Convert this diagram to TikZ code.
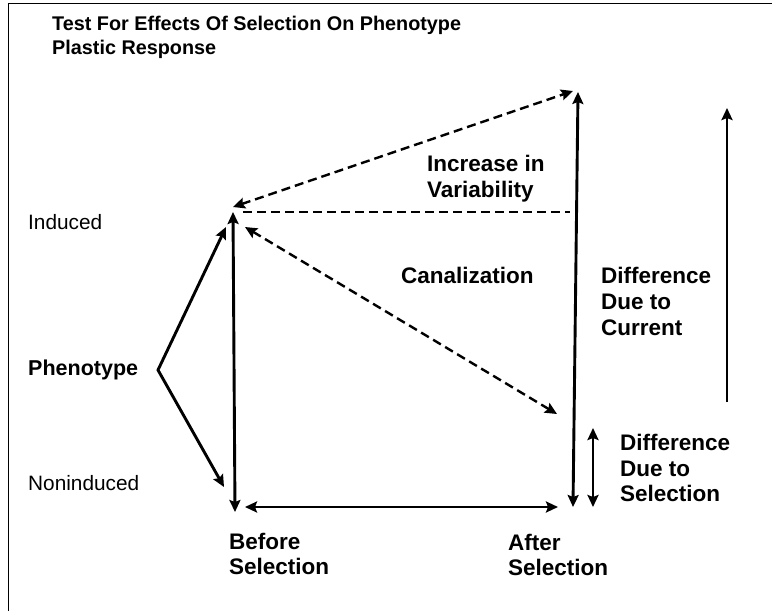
\documentclass[tikz,border=0pt]{standalone}
\usepackage{fontspec}
\setmainfont{Liberation Sans}
\usetikzlibrary{arrows.meta}

\begin{document}
\begin{tikzpicture}[x=1pt,y=-1pt,
  >={Stealth[length=12pt,width=11pt,inset=2pt]},
  fullarrow/.style={line width=2.9pt},
  dasharrow/.style={line width=2.4pt,dash pattern=on 9pt off 5pt},
  lbl/.style={inner sep=0pt,align=left,font=\fontsize{22.5}{26}\selectfont\bfseries},
  side/.style={inner sep=0pt,anchor=west,font=\fontsize{20.8}{24}\selectfont}]
\useasboundingbox (0,0) rectangle (772,611);
\draw[line width=1.3pt] (8.5,611) -- (8.5,3.5) -- (772,3.5);

% texts
\node[lbl,anchor=north west,font=\fontsize{19.8}{24}\selectfont\bfseries] (title) at (52,16)
  {Test For Effects Of Selection On Phenotype\\Plastic Response};
\node[side] (induced) at (28,222) {Induced};
\node[side] (noninduced) at (28,483) {Noninduced};
\node[side,font=\fontsize{21.5}{24}\selectfont\bfseries] (pheno) at (28,370) {Phenotype};
\node[lbl,anchor=west] (canal) at (401,275) {Canalization};
\node[lbl,anchor=north west] (incvar) at (427,155) {Increase in\\Variability};
\node[lbl,anchor=north west] (diffcur) at (601,267) {Difference\\Due to\\Current};
\node[lbl,anchor=north west,font=\fontsize{22.5}{25.5}\selectfont\bfseries] (diffsel) at (620,434) {Difference\\Due to\\Selection};
\node[lbl,anchor=north west,font=\fontsize{22.5}{24.5}\selectfont\bfseries] (before) at (229,533) {Before\\Selection};
\node[lbl,anchor=north west,font=\fontsize{22.5}{25}\selectfont\bfseries] (after) at (508,534) {After\\Selection};

% arrow ends
\coordinate (bTop) at (233,212);
\coordinate (bBot) at (235,512);
\coordinate (aTop) at (578,92);
\coordinate (aBot) at (573,507);
\coordinate (hLeft) at (245,507);
\coordinate (hRight) at (558,507);
\coordinate (selTop) at (593,428);
\coordinate (selBot) at (593,507);
\coordinate (curBot) at (727,402);
\coordinate (curTop) at (727,108);
\coordinate (vtx) at (158,370);
\coordinate (vInd) at (226,227);
\coordinate (vNon) at (224,487);
\coordinate (upLeft) at (233,207);
\coordinate (upRight) at (573,91);
\coordinate (hdLeft) at (243,212);
\coordinate (hdRight) at (570,212);
\coordinate (caLeft) at (245,227);
\coordinate (caRight) at (557,414);

\draw[fullarrow,<->] (bTop) -- (bBot);
\draw[fullarrow,<->] (hLeft) -- (hRight);
\draw[fullarrow,<->] (aTop) -- (aBot);
\draw[fullarrow,<->] (selTop) -- (selBot);
\draw[fullarrow,->] (curBot) -- (curTop);
\draw[fullarrow,<->] (vInd) -- (vtx) -- (vNon);
\draw[dasharrow,<->] (upLeft) -- (upRight);
\draw[dasharrow] (hdLeft) -- (hdRight);
\draw[dasharrow,<->] (caLeft) -- (caRight);
\end{tikzpicture}
\end{document}
